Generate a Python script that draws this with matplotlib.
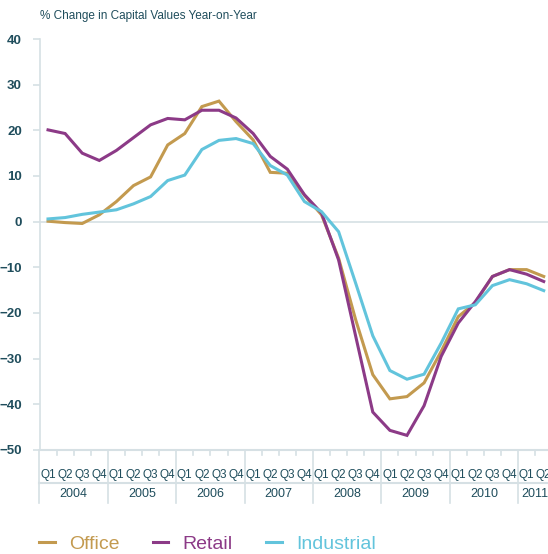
import numpy as np
import matplotlib.pyplot as plt
from matplotlib.lines import Line2D

# quarterly series, Q1 2004 .. Q2 2011
quarters = ["Q1", "Q2", "Q3", "Q4"] * 7 + ["Q1", "Q2"]
years = ["2004", "2005", "2006", "2007", "2008", "2009", "2010", "2011"]
office = [0.1, -0.2, -0.4, 1.5, 4.4, 7.9, 9.8, 16.8, 19.3, 25.2, 26.4, 21.9, 17.9, 10.8, 10.6,
          5.8, 1.5, -8.0, -21.5, -33.5, -38.8, -38.3, -35.3, -28.4, -20.8, -17.7, -12.0, -10.5, -10.5, -12.0]
retail = [20.1, 19.3, 15.0, 13.4, 15.6, 18.4, 21.2, 22.6, 22.3, 24.4, 24.4, 22.7, 19.3, 14.3, 11.5,
          5.9, 1.9, -8.4, -25.1, -41.7, -45.7, -46.8, -40.3, -29.5, -22.2, -17.5, -12.0, -10.5, -11.5, -13.1]
industrial = [0.6, 0.9, 1.6, 2.1, 2.6, 3.9, 5.5, 9.0, 10.2, 15.8, 17.8, 18.2, 17.1, 12.3, 10.2,
              4.4, 2.2, -2.2, -13.5, -25.0, -32.6, -34.5, -33.4, -26.6, -19.1, -18.2, -14.0, -12.7, -13.6, -15.1]

c_office = "#c39a4f"
c_retail = "#8c3a87"
c_ind = "#62c4dc"
c_text = "#1f4d5c"
c_grid = "#d6e0e4"

plt.rcParams["font.family"] = ["Liberation Sans", "DejaVu Sans"]

fig = plt.figure(figsize=(5.48, 5.54), dpi=100)
ax = fig.add_axes([40 / 548, 104 / 554, 508 / 548, 411 / 554])

x = np.arange(len(quarters))
ax.plot(x, office, color=c_office, lw=2.2, solid_joinstyle="miter")
ax.plot(x, retail, color=c_retail, lw=2.2, solid_joinstyle="miter")
ax.plot(x, industrial, color=c_ind, lw=2.2, solid_joinstyle="miter")

ax.set_xlim(-0.47, 29.25)
ax.set_ylim(-50, 40)
ax.axhline(0, color=c_grid, lw=1.2, zorder=0)
ax.axhline(-50, color=c_grid, lw=1.5, zorder=0, clip_on=False)

for s in ["top", "right", "bottom"]:
    ax.spines[s].set_visible(False)
ax.spines["left"].set_color(c_grid)
ax.spines["left"].set_linewidth(1.2)

ax.set_yticks(np.arange(-50, 41, 10))
ax.tick_params(axis="y", colors=c_grid, length=5, width=1.2, pad=8)
for lab in ax.get_yticklabels():
    lab.set_color(c_text)
    lab.set_fontweight("bold")
    lab.set_fontsize(9.5)
ax.set_xticks([])

# category axis drawn by hand under the plot
trans = ax.get_xaxis_transform()
for i, q in enumerate(quarters):
    ax.text(i, -0.06, q, transform=trans, ha="center", va="center", fontsize=8.5,
            color=c_text, clip_on=False)
    if i % 4 != 0:
        ax.plot([i - 0.5, i - 0.5], [0, -0.013], transform=trans, color=c_grid, lw=1.2, clip_on=False)
for k, yr in enumerate(years):
    start = 4 * k - 0.5
    stop = min(4 * k + 3.5, len(quarters) - 0.5)
    ax.plot([start, start], [0, -0.128], transform=trans, color=c_grid, lw=1.2, clip_on=False)
    ax.text((start + stop) / 2, -0.107, yr, transform=trans, ha="center", va="center",
            fontsize=9, color=c_text, clip_on=False)
ax.plot([-0.5, 30], [-0.08, -0.08], transform=trans, color=c_grid, lw=1.5, clip_on=False)

fig.text(40 / 548, 1 - 16 / 554, "% Change in Capital Values Year-on-Year", fontsize=8.5,
         color=c_text, va="center")

handles = [Line2D([], [], color=c, lw=2.2) for c in (c_office, c_retail, c_ind)]
leg = fig.legend(handles, ["Office", "Retail", "Industrial"], loc="center left",
                 bbox_to_anchor=(39 / 548, 1 - 544 / 554), ncol=3, frameon=False,
                 fontsize=14, handlelength=0.8, handletextpad=0.75, columnspacing=1.7,
                 borderpad=0, borderaxespad=0, labelcolor="linecolor")

fig.savefig("out.png", dpi=100)
